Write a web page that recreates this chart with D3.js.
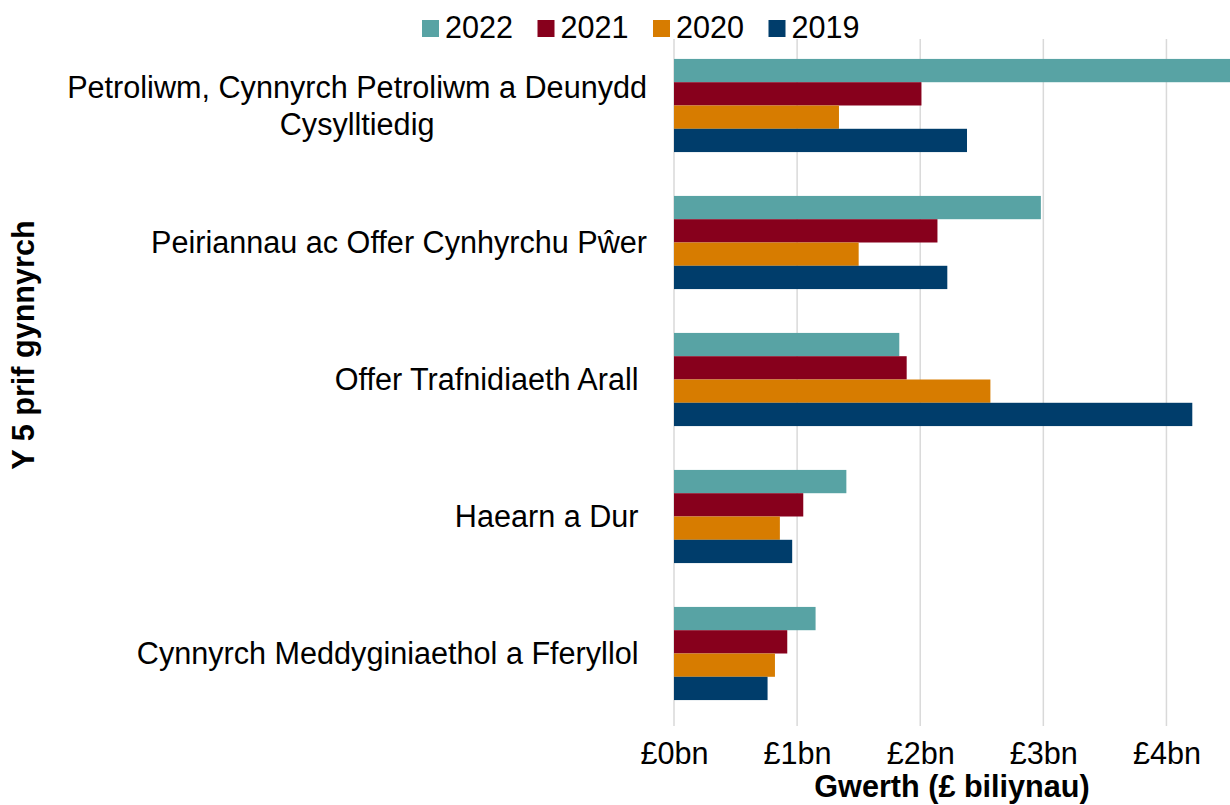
<!DOCTYPE html>
<html>
<head>
<meta charset="utf-8">
<script src="https://cdn.jsdelivr.net/npm/d3@7"></script>
<style>
  body { margin: 0; background: #fff; }
  text { font-family: "Liberation Sans", Arial, sans-serif; fill: #000; }
</style>
</head>
<body>
<svg></svg>
<script>
var categories = [
  ["Petroliwm, Cynnyrch Petroliwm a Deunydd", "Cysylltiedig"],
  ["Peiriannau ac Offer Cynhyrchu P\u0175er"],
  ["Offer Trafnidiaeth Arall "],
  ["Haearn a Dur "],
  ["Cynnyrch Meddyginiaethol a Fferyllol "]
];
var years = ["2022", "2021", "2020", "2019"];
var colors = ["#58a3a4", "#87001c", "#d77c00", "#003d6b"];

// values in £bn, one array per year, same order as categories
var v2022 = [4.6, 2.98, 1.83, 1.40, 1.15];
var v2021 = [2.01, 2.14, 1.89, 1.05, 0.92];
var v2020 = [1.34, 1.50, 2.57, 0.86, 0.82];
var v2019 = [2.38, 2.22, 4.21, 0.96, 0.76];
var series = [v2022, v2021, v2020, v2019];

var xTicks = [0, 1, 2, 3, 4];
var xTickLabels = ["£0bn", "£1bn", "£2bn", "£3bn", "£4bn"];

var width = 1230;
var height = 805;
var fontSize = 30.6;

var svg = d3.select("svg")
  .attr("width", width)
  .attr("height", height);

var x = d3.scaleLinear()
  .domain([0, 4.5])
  .range([674, 1228]);

var y = d3.scaleBand()
  .domain(d3.range(categories.length))
  .range([37, 722])
  .paddingInner(0.32)
  .paddingOuter(0.16);

var yInner = d3.scaleBand()
  .domain(d3.range(years.length))
  .range([0, y.bandwidth()]);

// gridlines
svg.append("g")
  .selectAll("line")
  .data(xTicks)
  .enter()
  .append("line")
  .attr("x1", function(d){ return x(d) })
  .attr("x2", function(d){ return x(d) })
  .attr("y1", 39)
  .attr("y2", 726)
  .attr("stroke", "#d9d9d9")
  .attr("stroke-width", 1.5);

// bars
var groups = svg.append("g")
  .selectAll("g")
  .data(series)
  .enter()
  .append("g")
  .attr("fill", function(d, i){ return colors[i] });

groups.selectAll("rect")
  .data(function(d, i){ return d.map(function(v, c){ return { v: v, c: c, s: i } }) })
  .enter()
  .append("rect")
  .attr("x", x(0))
  .attr("y", function(d){ return y(d.c) + yInner(d.s) })
  .attr("width", function(d){ return x(d.v) - x(0) })
  .attr("height", yInner.bandwidth());

// x axis tick labels
var xAxis = d3.axisBottom(x)
  .tickValues(xTicks)
  .tickSize(0)
  .tickPadding(0)
  .tickFormat(function(d, i){ return xTickLabels[i] });

var gx = svg.append("g")
  .attr("transform", "translate(0,742)")
  .call(xAxis);
gx.select(".domain").remove();
gx.selectAll("text")
  .attr("dy", "0.71em")
  .style("font-size", fontSize + "px")
  .style("font-family", "'Liberation Sans', Arial, sans-serif")
  .attr("fill", "#000");

// category labels
var labelRight = 647;
var lineH = 37;
categories.forEach(function(lines, i) {
  var cy = y(i) + y.bandwidth() / 2;
  var g = svg.append("g");
  var t0 = g.append("text")
    .attr("x", labelRight)
    .attr("y", cy)
    .attr("text-anchor", "end")
    .style("font-size", fontSize + "px")
    .style("white-space", "pre")
    .text(lines[0]);
  if (lines.length > 1) {
    var w = t0.node().getComputedTextLength();
    var mid = labelRight - w / 2;
    t0.attr("text-anchor", "middle").attr("x", mid);
    var top = cy - (lines.length - 1) * lineH / 2;
    t0.attr("y", top + fontSize * 0.35);
    for (var k = 1; k < lines.length; k++) {
      g.append("text")
        .attr("x", mid)
        .attr("y", top + k * lineH + fontSize * 0.35)
        .attr("text-anchor", "middle")
        .style("font-size", fontSize + "px")
        .text(lines[k]);
    }
  } else {
    t0.attr("dy", "0.35em");
  }
});

// axis titles
svg.append("text")
  .attr("x", (x(0) + width) / 2)
  .attr("y", 797)
  .attr("text-anchor", "middle")
  .style("font-size", fontSize + "px")
  .style("font-weight", "bold")
  .text("Gwerth (£ biliynau)");

svg.append("text")
  .attr("transform", "translate(34,345) rotate(-90)")
  .attr("text-anchor", "middle")
  .style("font-size", fontSize + "px")
  .style("font-weight", "bold")
  .text("Y 5 prif gynnyrch");

// legend
var legend = svg.append("g")
  .selectAll("g")
  .data(years)
  .enter()
  .append("g")
  .attr("transform", function(d, i){ return "translate(" + (422 + i * 115.5) + ",0)" });

legend.append("rect")
  .attr("x", 0)
  .attr("y", 20)
  .attr("width", 17)
  .attr("height", 17)
  .attr("fill", function(d, i){ return colors[i] });

legend.append("text")
  .attr("x", 23)
  .attr("y", 38)
  .style("font-size", fontSize + "px")
  .text(function(d){ return d });
</script>
</body>
</html>
